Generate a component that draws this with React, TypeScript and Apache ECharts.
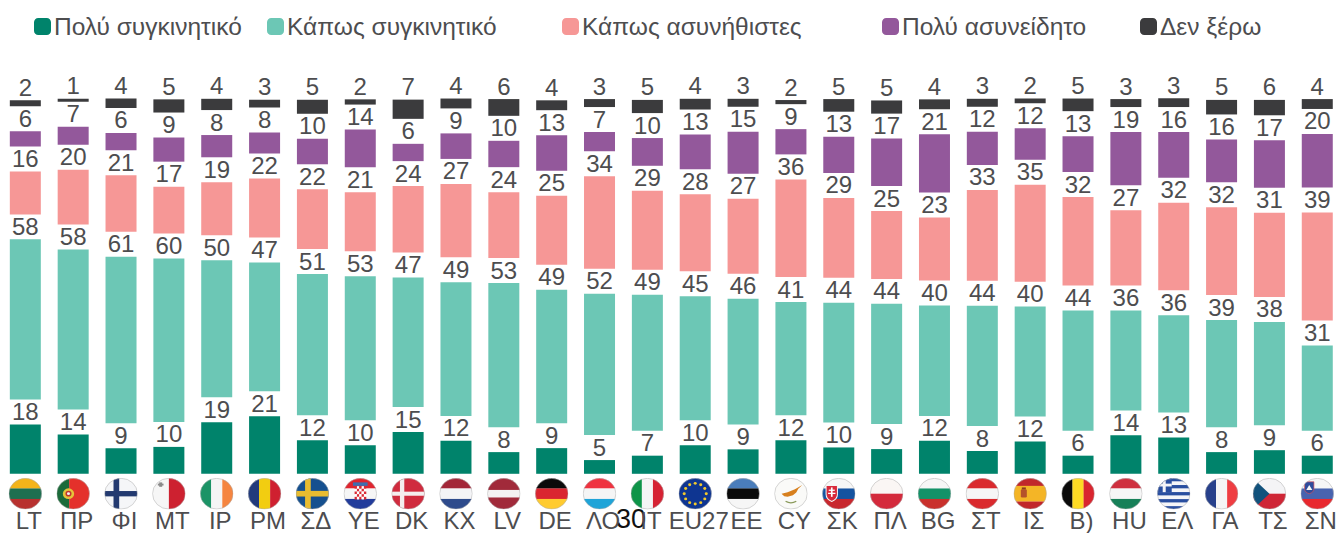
import React, { useEffect, useRef } from "react";
import * as echarts from "echarts";

const categories = ["LT","ΠΡ","ΦΙ","MT","ΙΡ","ΡΜ","ΣΔ","ΥΕ","DK","ΚΧ","LV","DE","ΛΟ","ΙΤ","EU27","EE","CY","ΣΚ","ΠΛ","BG","ΣΤ","ΙΣ","Β)","HU","ΕΛ","ΓΑ","ΤΣ","ΣΝ"];
const legendNames = ["Πολύ συγκινητικό","Κάπως συγκινητικό","Κάπως ασυνήθιστες","Πολύ ασυνείδητο","Δεν ξέρω"];

// printed labels
const veryLabels = [18,14,9,10,19,21,12,10,15,12,8,9,5,7,10,9,12,10,9,12,8,12,6,14,13,8,9,6];
const someLabels = [58,58,61,60,50,47,51,53,47,49,53,49,52,49,45,46,41,44,44,40,44,40,44,36,36,39,38,31];
const unusualLabels = [16,20,21,17,19,22,22,21,24,27,24,25,34,29,28,27,36,29,25,23,33,35,32,27,32,32,31,39];
const unawareLabels = [6,7,6,9,8,8,10,14,6,9,10,13,7,10,13,15,9,13,17,21,12,12,13,19,16,16,17,20];
const dkLabels = [2,1,4,5,4,3,5,2,7,4,6,4,3,5,4,3,2,5,5,4,3,2,5,3,3,5,6,4];

// bar heights (unrounded shares)
const veryValues = [18,14.3,9.35,9.8,18.8,21,12.25,10.4,15.2,12,7.9,9.35,5,6.6,10.4,8.9,12.25,9.6,9,12,8.3,11.8,6.6,14,13.2,7.9,8.6,6.6];
const someValues = [58.3,58.3,60.6,59.5,49.9,46.9,51.4,52.5,47.2,48.7,52.5,48.6,51.5,49.5,45.2,45.8,41.2,43.6,43.8,40.2,43.8,40,43.8,36.4,35.5,39,37.6,31];
const unusualValues = [15.6,20,20.6,17.1,19.3,21.5,21.8,21.5,24.2,26.7,24,25.1,33.7,28.8,28,27.3,35.6,29.1,24.7,23,33.1,35.3,32.2,27.4,31.8,32,30.7,39.4];
const unawareValues = [5.6,6.5,6.3,8.8,8.1,7.6,9.3,13.7,6.3,9.3,9.6,13,7,10.1,12.7,15.3,9.2,13.2,17.3,21.2,12.1,11.5,13.1,19.4,16.7,15.6,17.3,19.5];
const dkValues = [2.2,1.1,3.5,4.8,4.1,2.9,5.1,1.9,7,3.6,6.1,3.6,2.9,4.8,3.9,2.9,1.5,4.6,4.8,3.6,2.9,1.7,4.6,2.9,3.2,5.3,5.6,3.6];
const labelGap = 9.1;

const colors = ["#00836B","#6CC7B5","#F69796","#93589B","#3B3B3D"];
const textColor = "#4D4D4F";
const font = "'Liberation Sans', Arial, sans-serif";

const hBands = (cs: string[], ws?: number[]) => {
  const w = ws || cs.map(() => 100 / cs.length);
  let y = 0;
  return cs.map((c, i) => { const s = `<rect x="0" y="${y}" width="100" height="${w[i] + 0.5}" fill="${c}"/>`; y += w[i]; return s; }).join("");
};
const vBands = (cs: string[], ws?: number[]) => {
  const w = ws || cs.map(() => 100 / cs.length);
  let x = 0;
  return cs.map((c, i) => { const s = `<rect x="${x}" y="0" width="${w[i] + 0.5}" height="100" fill="${c}"/>`; x += w[i]; return s; }).join("");
};
const cross = (bg: string, fg: string, cx: number, t: number) =>
  `<rect width="100" height="100" fill="${bg}"/><rect x="${cx - t / 2}" width="${t}" height="100" fill="${fg}"/><rect y="${50 - t / 2}" width="100" height="${t}" fill="${fg}"/>`;
const euStars = () => {
  let s = `<rect width="100" height="100" fill="#0E3591"/>`;
  for (let i = 0; i < 12; i++) {
    const a = (i * Math.PI) / 6;
    s += `<circle cx="${50 + 33 * Math.sin(a)}" cy="${50 - 33 * Math.cos(a)}" r="4.6" fill="#F2C92B"/>`;
  }
  return s;
};
const hrCheck = () => {
  let s = hBands(["#E0252F","#F6F6F6","#223C9B"]);
  s += `<rect x="28" y="14" width="44" height="11" fill="#3E6FB0"/>`;
  for (let r = 0; r < 5; r++) for (let c = 0; c < 5; c++)
    s += `<rect x="${33 + c * 7}" y="${26 + r * 8.5}" width="7" height="8.5" fill="${(r + c) % 2 ? "#FFFFFF" : "#DA2A35"}"/>`;
  return s;
};
const grStripes = () => {
  let s = "";
  for (let i = 0; i < 9; i++) s += `<rect y="${i * 11.2}" width="100" height="11.4" fill="${i % 2 ? "#F5F5F8" : "#2A4FA0"}"/>`;
  s += `<rect width="44" height="45" fill="#2A4FA0"/><rect x="17" width="9" height="45" fill="#F5F5F8"/><rect y="18" width="44" height="9" fill="#F5F5F8"/>`;
  return s;
};
const flagArt: string[] = [
  hBands(["#F4B41A","#1E6F50","#B8312F"]),
  vBands(["#1B6B3A","#E4312B"],[38,62]) + `<circle cx="36" cy="50" r="17" fill="#E5C33A"/><circle cx="36" cy="50" r="9" fill="#C2332D"/><circle cx="36" cy="50" r="4.5" fill="#F2F2F2"/>`,
  cross("#F5F6F8","#233A70",36,17),
  vBands(["#F6F6F6","#CD2130"]) + `<rect x="21" y="14" width="9" height="14" fill="#8A8A8A"/><rect x="17" y="18" width="17" height="6" fill="#8A8A8A"/>`,
  vBands(["#1C9366","#F5F5F5","#F58540"]),
  vBands(["#213A7C","#F2CD11","#CF2030"]),
  `<rect width="100" height="100" fill="#15508F"/><rect x="28" width="17" height="100" fill="#E8BC30"/><rect y="41" width="100" height="18" fill="#E8BC30"/>`,
  hrCheck(),
  cross("#D02B3E","#F4EDEE",32,13),
  hBands(["#A32638","#F4F4F6","#2E4B8C"]),
  hBands(["#A12A3A","#F4F2F2","#A12A3A"],[38,24,38]),
  hBands(["#0A0A0A","#DA2530","#FFCB30"]),
  hBands(["#EF3340","#F5F5F5","#1FA4D8"]),
  vBands(["#0E9448","#F5F5F5","#D62233"]),
  euStars(),
  hBands(["#4A7DBB","#0A0A0A","#F6F6F6"]),
  `<rect width="100" height="100" fill="#FAFAF8"/><polygon points="22,50 40,45 62,36 84,22 72,34 66,46 56,55 40,60 30,58" fill="#D8801E"/><path d="M34,74 Q50,84 66,74" stroke="#8A9A5B" stroke-width="4" fill="none"/>`,
  hBands(["#F6F6F6","#1553A0","#C8272E"]) + `<path d="M12,24 H46 V52 Q46,68 29,75 Q12,68 12,52 Z" fill="#D8283A" stroke="#F5F5F5" stroke-width="3"/><rect x="26.5" y="30" width="5" height="30" fill="#FFF"/><rect x="20" y="37" width="18" height="4" fill="#FFF"/><rect x="18" y="47" width="22" height="4" fill="#FFF"/>`,
  hBands(["#FAF6F4","#D42A3C"]),
  hBands(["#F6F6F6","#139268","#C9302C"]),
  hBands(["#DA2A2E","#F6F6F6","#DA2A2E"]),
  hBands(["#C1262B","#F4B526","#C1262B"],[25,50,25]) + `<rect x="22" y="36" width="18" height="26" rx="4" fill="#B5522A"/><rect x="25" y="30" width="12" height="6" fill="#8C3A20"/>`,
  vBands(["#0A0A0A","#FDDA24","#D9252F"]),
  hBands(["#CF2F3E","#F6F6F6","#178058"]),
  grStripes(),
  vBands(["#27408B","#F5F5F5","#EF3D42"]),
  hBands(["#F4F4F6","#CF2636"]) + `<polygon points="0,0 50,50 0,100" fill="#12527C"/>`,
  hBands(["#F6F6F6","#4863AF","#E8282E"]) + `<path d="M12,12 H40 V34 Q40,46 26,50 Q12,46 12,34 Z" fill="#2F4C9C" stroke="#E4505A" stroke-width="2"/><polygon points="17,38 26,22 35,38" fill="#F5F5F5"/>`,
];
const flagUris = flagArt.map((art, i) => {
  const svg = `<svg xmlns="http://www.w3.org/2000/svg" width="100" height="100" viewBox="0 0 100 100" preserveAspectRatio="none"><defs><clipPath id="c${i}"><circle cx="50" cy="50" r="49"/></clipPath></defs><g clip-path="url(#c${i})">${art}</g><circle cx="50" cy="50" r="49" fill="none" stroke="#AFAFAF" stroke-width="1.6"/></svg>`;
  return "data:image/svg+xml;charset=utf-8," + encodeURIComponent(svg);
});

const BAR_W = 31;
const legendLeft = [34, 267, 562, 882, 1140];

function makeBar(name: string, values: number[], labels: number[], color: string) {
  return {
    name, type: "bar", stack: "t", barWidth: BAR_W, data: values,
    itemStyle: { color },
    label: {
      show: true, position: "top", distance: 1, color: textColor, fontFamily: font, fontSize: 24,
      formatter: (p: any) => String(labels[p.dataIndex]),
    },
    emphasis: { disabled: true },
  };
}
function makeGap(id: string) {
  return {
    name: id, type: "bar", stack: "t", barWidth: BAR_W, silent: true,
    data: categories.map(() => labelGap),
    itemStyle: { color: "transparent" },
    label: { show: false },
  };
}

export default function App() {
  const ref = useRef<HTMLDivElement>(null);
  useEffect(() => {
    document.body.style.margin = "0";
    document.body.style.overflow = "hidden";
    const chart = echarts.init(ref.current!, null, { renderer: "svg" });
    chart.setOption({
      animation: false,
      backgroundColor: "#FFFFFF",
      legend: legendNames.map((n, i) => ({
        data: [n], left: legendLeft[i], top: 14, padding: 0,
        icon: "roundRect", itemWidth: 17, itemHeight: 17, selectedMode: false,
        textStyle: { color: textColor, fontFamily: font, fontSize: 24.5, padding: [0, 0, 0, -2] },
      })),
      grid: { left: 1.4, top: 73, width: 1339.8, height: 400.8, outerBoundsMode: "none" },
      xAxis: {
        type: "category", data: categories,
        axisLine: { show: false }, axisTick: { show: false },
        axisLabel: { interval: 0, hideOverlap: false, margin: 36.5, lineHeight: 20, color: textColor, fontFamily: font, fontSize: 24, padding: [0, 0, 0, 7] },
      },
      yAxis: { type: "value", min: 0, max: 146, show: false, splitLine: { show: false } },
      graphic: [{
        type: "text", x: 631, y: 519.4, silent: true,
        style: { text: "30", fill: "#111111", font: `27px ${font}`, textAlign: "center", textVerticalAlign: "middle" },
      }],
      series: [
        makeBar(legendNames[0], veryValues, veryLabels, colors[0]), makeGap("g1"),
        makeBar(legendNames[1], someValues, someLabels, colors[1]), makeGap("g2"),
        makeBar(legendNames[2], unusualValues, unusualLabels, colors[2]), makeGap("g3"),
        makeBar(legendNames[3], unawareValues, unawareLabels, colors[3]), makeGap("g4"),
        makeBar(legendNames[4], dkValues, dkLabels, colors[4]),
        {
          type: "custom", name: "flags", silent: true, clip: false, z: 5,
          data: categories.map((_, i) => [i, 0]),
          renderItem: (p: any, api: any) => {
            const c = api.coord([p.dataIndex, 0]);
            return {
              type: "image",
              style: { image: flagUris[p.dataIndex], x: c[0] - 16.7, y: c[1] + 4.2, width: 33.4, height: 31.4 },
            };
          },
        },
      ],
    });
    return () => chart.dispose();
  }, []);
  return <div ref={ref} style={{ position: "absolute", left: 0, top: 0, width: 1341, height: 533 }} />;
}
